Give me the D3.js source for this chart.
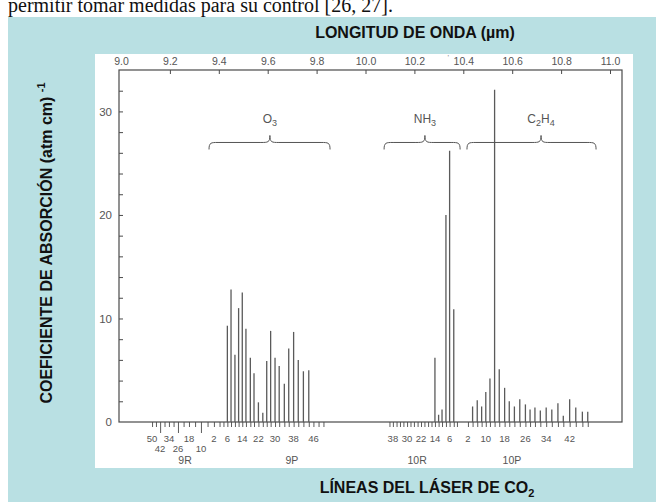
<!DOCTYPE html>
<html><head><meta charset="utf-8">
<script src="https://cdn.jsdelivr.net/npm/d3@7"></script>
<style>
body{margin:0;background:#fff;}
svg text{font-family:"Liberation Sans",Arial,sans-serif;}
</style></head>
<body>
<svg id="chart" width="664" height="502"></svg>
<script>
// ---------- DATA ----------
const wavelengthTicks = [9.0, 9.2, 9.4, 9.6, 9.8, 10.0, 10.2, 10.4, 10.6, 10.8, 11.0];
const wavelengthLabels = ["9.0","9.2","9.4","9.6","9.8","10.0","10.2","10.4","10.6","10.8","11.0"];
const absTicks = [0,2,4,6,8,10,12,14,16,18,20,22,24,26,28,30,32];
const absLabels = [0,10,20,30];

// CO2 laser lines (J number, wavelength in µm) per band
const band9R_J  = [50,46,42,38,34,30,26,22,18,14,10,6,2];
const band9R_wl = [9.127,9.143,9.160,9.178,9.196,9.215,9.233,9.256,9.278,9.303,9.327,9.354,9.380];
const band9P_J  = [2,4,6,8,10,12,14,16,18,20,22,24,26,28,30,32,34,36,38,40,42,44,46,48,50];
const band9P_wl = [9.403,9.419,9.435,9.450,9.466,9.481,9.496,9.511,9.529,9.544,9.562,9.580,9.596,9.612,9.630,9.647,9.668,9.686,9.706,9.725,9.746,9.768,9.787,9.808,9.828];
const band10R_J  = [40,38,36,34,32,30,28,26,24,22,20,18,16,14,12,10,8,6,4,2];
const band10R_wl = [10.098,10.112,10.127,10.141,10.155,10.170,10.184,10.198,10.213,10.227,10.241,10.256,10.270,10.284,10.299,10.313,10.329,10.344,10.361,10.374];
const band10P_J  = [2,4,6,8,10,12,14,16,18,20,22,24,26,28,30,32,34,36,38,40,42,44,46,48];
const band10P_wl = [10.419,10.438,10.457,10.475,10.492,10.509,10.528,10.547,10.569,10.588,10.609,10.631,10.654,10.673,10.693,10.715,10.739,10.762,10.787,10.809,10.835,10.860,10.887,10.909];

// absorption coefficients (atm cm)^-1
const o3Lines   = [6,8,10,12,14,16,18,20,22,24,26,28,30,32,34,36,38,40,42,44];          // 9P
const o3Values  = [9.3,12.8,6.5,11.0,12.5,9.0,6.2,4.7,1.9,0.9,5.9,8.8,6.2,5.4,3.7,7.1,8.7,6.0,4.9,5.0];
const nh3Lines  = [14,12,10,8,6,4];                                                      // 10R
const nh3Values = [6.2,0.7,1.2,20.0,26.2,10.9];
const c2h4Lines  = [4,6,8,10,12,14,16,18,20,22,24,26,28,30,32,34,36,38,40,42,44,46,48]; // 10P
const c2h4Values = [1.5,2.1,1.5,2.9,4.2,32.1,5.1,3.3,2.0,1.5,2.2,1.7,1.2,1.4,1.1,1.4,1.2,1.8,0.6,2.2,1.4,1.0,1.0];

// bottom labels
const label9R_row1 = [50,34,18,2];
const label9R_row2 = [42,26,10];
const label9P_row1 = [6,14,22,30,38,46];
const label10R_row1 = [38,30,22,14,6];
const label10P_row1 = [2,10,18,26,34,42];
const bandNames = ["9R","9P","10R","10P"];
const bandNameWl = [9.262, 9.699, 10.211, 10.599];

// molecule brackets (start, end, tip in µm)
const gases = ["O", "NH", "C"];
const braceStart = [9.360, 10.076, 10.415];
const braceEnd   = [9.855, 10.387, 10.943];
const braceTip   = [9.609, 10.243, 10.718];

// ---------- LAYOUT ----------
const svg = d3.select("#chart");
const frame = {left:119, right:622, top:70, bottom:422};

// page text above panel (cut off at the top, as in the source page)
svg.append("text").attr("x",8).attr("y",12)
  .style("font-family","'Liberation Serif','Times New Roman',serif")
  .style("font-size","20px").attr("fill","#111")
  .text("permitir tomar medidas para su control [26, 27].");

// blue panel
svg.append("rect").attr("x",8).attr("y",17).attr("width",648).attr("height",485).attr("fill","#b9e0e3");
// white chart image
svg.append("rect").attr("x",95).attr("y",54).attr("width",538).attr("height",414).attr("fill","#ffffff");

const x = d3.scaleLinear().domain([9.0, 11.0]).range([121, 610]);
const y = d3.scaleLinear().domain([0, 34]).range([frame.bottom, frame.top]);

const ink = "#4a4a4a";

// frame
svg.append("rect").attr("x",frame.left).attr("y",frame.top)
  .attr("width",frame.right-frame.left).attr("height",frame.bottom-frame.top)
  .attr("fill","none").attr("stroke",ink).attr("stroke-width",1.2);

// top axis (wavelength)
const topAxis = d3.axisTop(x).tickValues(wavelengthTicks)
  .tickFormat((d,i)=>wavelengthLabels[i]).tickSize(-4).tickPadding(5.5);
const gTop = svg.append("g").attr("transform",`translate(0,${frame.top})`).call(topAxis);
gTop.select(".domain").remove();
gTop.selectAll("line").attr("stroke",ink);
gTop.selectAll("text").attr("fill","#555").style("font-size","10.5px");
gTop.selectAll(".tick").filter(d=>d===9.0).select("line").remove();

// left axis
const leftAxis = d3.axisLeft(y).tickValues(absTicks)
  .tickFormat(d=>absLabels.includes(d)?d:"").tickSize(-4).tickPadding(7);
const gLeft = svg.append("g").attr("transform",`translate(${frame.left},0)`).call(leftAxis);
gLeft.select(".domain").remove();
gLeft.selectAll("line").attr("stroke",ink);
gLeft.selectAll("text").attr("fill","#555").style("font-size","11.5px");
gLeft.selectAll(".tick").filter(d=>d===0).select("line").remove();

// bottom laser-line ticks
function bandAxis(J, wl, longSet){
  const g = svg.append("g").attr("transform",`translate(0,${frame.bottom})`);
  g.call(d3.axisBottom(x).tickValues(wl).tickFormat("").tickSize(5));
  g.select(".domain").remove();
  g.selectAll(".tick line").attr("stroke",ink).attr("stroke-width",0.9)
    .attr("y2",(d)=>{const j=J[wl.indexOf(d)]; return longSet.includes(j)?11:5;});
}
bandAxis(band9R_J, band9R_wl, label9R_row2);
bandAxis(band9P_J, band9P_wl, []);
bandAxis(band10R_J, band10R_wl, []);
bandAxis(band10P_J, band10P_wl, []);

function lineLabels(labels, J, wl, yy){
  svg.append("g").selectAll("text").data(labels).join("text")
    .attr("x",d=>x(wl[J.indexOf(d)])).attr("y",yy)
    .attr("text-anchor","middle").attr("fill","#555").style("font-size","9.5px")
    .text(d=>d);
}
lineLabels(label9R_row1, band9R_J, band9R_wl, 442);
lineLabels(label9R_row2, band9R_J, band9R_wl, 452);
lineLabels(label9P_row1, band9P_J, band9P_wl, 442);
lineLabels(label10R_row1, band10R_J, band10R_wl, 442);
lineLabels(label10P_row1, band10P_J, band10P_wl, 442);

svg.append("g").selectAll("text").data(bandNames).join("text")
  .attr("x",(d,i)=>x(bandNameWl[i])).attr("y",464)
  .attr("text-anchor","middle").attr("fill","#555").style("font-size","10.5px")
  .text(d=>d);

// absorption bars
function bars(lines, values, J, wl){
  svg.append("g").selectAll("line").data(lines).join("line")
    .attr("x1",d=>x(wl[J.indexOf(d)])).attr("x2",d=>x(wl[J.indexOf(d)]))
    .attr("y1",y(0)).attr("y2",(d,i)=>y(values[i]))
    .attr("stroke","#5a5a5a").attr("stroke-width",1.3);
}
bars(o3Lines, o3Values, band9P_J, band9P_wl);
bars(nh3Lines, nh3Values, band10R_J, band10R_wl);
bars(c2h4Lines, c2h4Values, band10P_J, band10P_wl);

// braces
const braceLine = y(27.0);
function bracePath(x1, x2, xm){
  const yl = braceLine, ye = yl+7, yt = yl-7;
  return `M${x1},${ye} C${x1},${yl} ${x1+2},${yl} ${x1+9},${yl} L${xm-9},${yl} C${xm-2},${yl} ${xm},${yl} ${xm},${yt}`+
         ` M${xm},${yt} C${xm},${yl} ${xm+2},${yl} ${xm+9},${yl} L${x2-9},${yl} C${x2-2},${yl} ${x2},${yl} ${x2},${ye}`;
}
svg.append("g").selectAll("path").data(gases).join("path")
  .attr("d",(d,i)=>bracePath(x(braceStart[i]), x(braceEnd[i]), x(braceTip[i])))
  .attr("fill","none").attr("stroke","#555").attr("stroke-width",1);

// gas labels
const gl = svg.append("g").attr("fill","#555").style("font-size","12px");
function gasLabel(i, parts){
  const t = gl.append("text").attr("x",x(braceTip[i])).attr("y",123).attr("text-anchor","middle");
  parts.forEach(p=>{
    const ts = t.append("tspan").text(p.t);
    if(p.sub){ ts.style("font-size","9px").attr("dy",3); }
    else if(p.after){ ts.attr("dy",-3); }
  });
}
gasLabel(0,[{t:"O"},{t:"3",sub:true}]);
gasLabel(1,[{t:"NH"},{t:"3",sub:true}]);
gasLabel(2,[{t:"C"},{t:"2",sub:true},{t:"H",after:true},{t:"4",sub:true}]);

// small artifact mark near 10.4
svg.append("text").attr("x",x(10.335)).attr("y",60).attr("fill","#888").style("font-size","8px").text("'");

// axis titles
svg.append("text").attr("x",415).attr("y",38).attr("text-anchor","middle")
  .style("font-size","16px").style("font-weight","bold").attr("fill","#111")
  .text("LONGITUD DE ONDA (µm)");

const bt = svg.append("text").attr("x",427).attr("y",493).attr("text-anchor","middle")
  .style("font-size","16px").style("font-weight","bold").attr("fill","#111");
bt.append("tspan").text("LÍNEAS DEL LÁSER DE CO");
bt.append("tspan").text("2").style("font-size","11px").attr("dy",4);

const lt = svg.append("text").attr("transform","translate(52,243) rotate(-90)")
  .attr("text-anchor","middle").style("font-size","16px").style("font-weight","bold").attr("fill","#111");
lt.append("tspan").text("COEFICIENTE DE ABSORCIÓN (atm cm) ");
lt.append("tspan").text("-1").style("font-size","11px").attr("dy",-7);
</script>
</body></html>
